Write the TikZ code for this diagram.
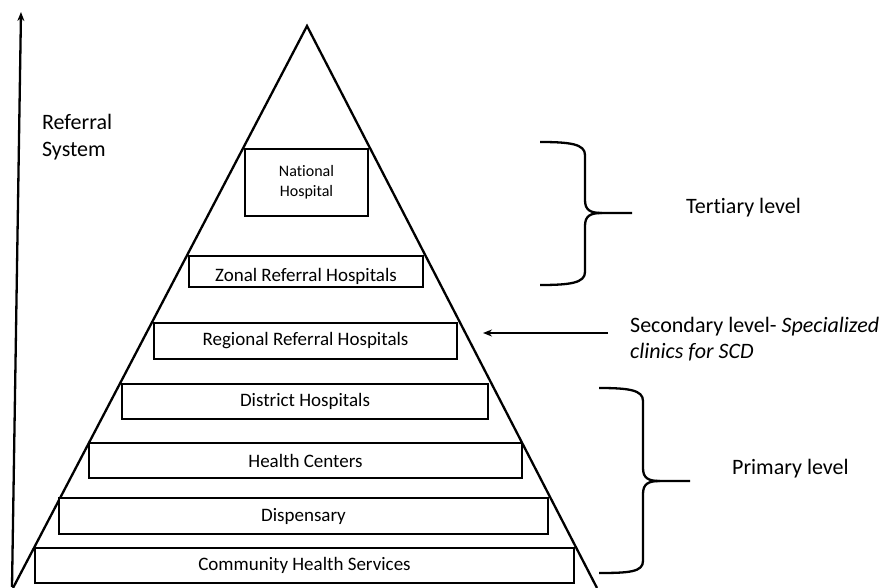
\documentclass[tikz,border=0pt]{standalone}
\usepackage{fontspec}
\setmainfont{Carlito}[Ligatures=NoCommon]
\usetikzlibrary{calc}
\usetikzlibrary{positioning}
\usetikzlibrary{arrows.meta}

\begin{document}
\begin{tikzpicture}[%
  >={Stealth[length=9pt,width=7pt]},
  x=1pt, y=-1pt,
  line width=2.3pt,
  level/.style={draw, fill=white, inner sep=0pt, font=\fontsize{19}{23}\selectfont},
  side/.style={font=\fontsize{22}{26.5}\selectfont, align=left, anchor=west, inner sep=0pt},
]

  \useasboundingbox (0,0) rectangle (881,588);

  % pyramid
  \coordinate (apex) at (307,26);
  \coordinate (bl) at (13,588);
  \coordinate (br) at (597,588);
  \draw (bl) -- (apex) -- (br);

  % referral axis
  \coordinate (ax0) at (12,587);
  \coordinate (ax1) at (21,12);
  \draw[->] (ax0) -- (ax1);
  \node[side] (referral) at (41,137) {Referral\\System};

  % levels of the pyramid
  \node[level, minimum width=123, minimum height=67, align=center,
    font=\fontsize{16}{20}\selectfont] (national) at (306.5,182.5) {National\\Hospital};
  \node[level, minimum width=234, minimum height=31] (zonal) at (306,271.5) {};
  \begin{scope}
    \clip (zonal.south west) rectangle (zonal.north east);
    \node[font=\fontsize{19}{23}\selectfont, inner sep=0pt, anchor=base] (zonaltext) at (306,281.5) {Zonal Referral Hospitals};
  \end{scope}
  \node[level, minimum width=303, minimum height=36] (regional) at (305.5,341) {Regional Referral Hospitals};
  \node[level, minimum width=366, minimum height=35] (district) at (305,401.5) {District Hospitals};
  \node[level, minimum width=433, minimum height=35] (health) at (305.5,460.5) {Health Centers};
  \node[level, minimum width=489, minimum height=36] (dispensary) at (303.5,516) {Dispensary};
  \node[level, minimum width=539, minimum height=35] (community) at (304.5,565.5) {Community Health Services};

  % tertiary brace
  \draw (540,142) .. controls (570,142) and (585,144) .. (585,155)
    -- (585,200) .. controls (585,210) and (590,213) .. (602,213) -- (632,213);
  \draw (602,213) .. controls (590,213) and (585,216) .. (585,226)
    -- (585,272) .. controls (585,283) and (570,285) .. (540,285);
  \node[side] (tertiary) at (685,208) {Tertiary level};

  % secondary arrow
  \node[side] (secondary) at (629,339) {Secondary level- \textit{Specialized}\\\textit{clinics for SCD}};
  \coordinate (sec0) at (608,333);
  \coordinate (sec1) at (483,333);
  \draw[->] (sec0) -- (sec1);

  % primary brace
  \draw (599,388) .. controls (629,388) and (643,390) .. (643,401)
    -- (643,468) .. controls (643,478) and (648,481) .. (660,481) -- (690,481);
  \draw (660,481) .. controls (648,481) and (643,484) .. (643,494)
    -- (643,561) .. controls (643,572) and (629,573) .. (599,573);
  \node[side] (primary) at (731,469) {Primary level};

\end{tikzpicture}
\end{document}
